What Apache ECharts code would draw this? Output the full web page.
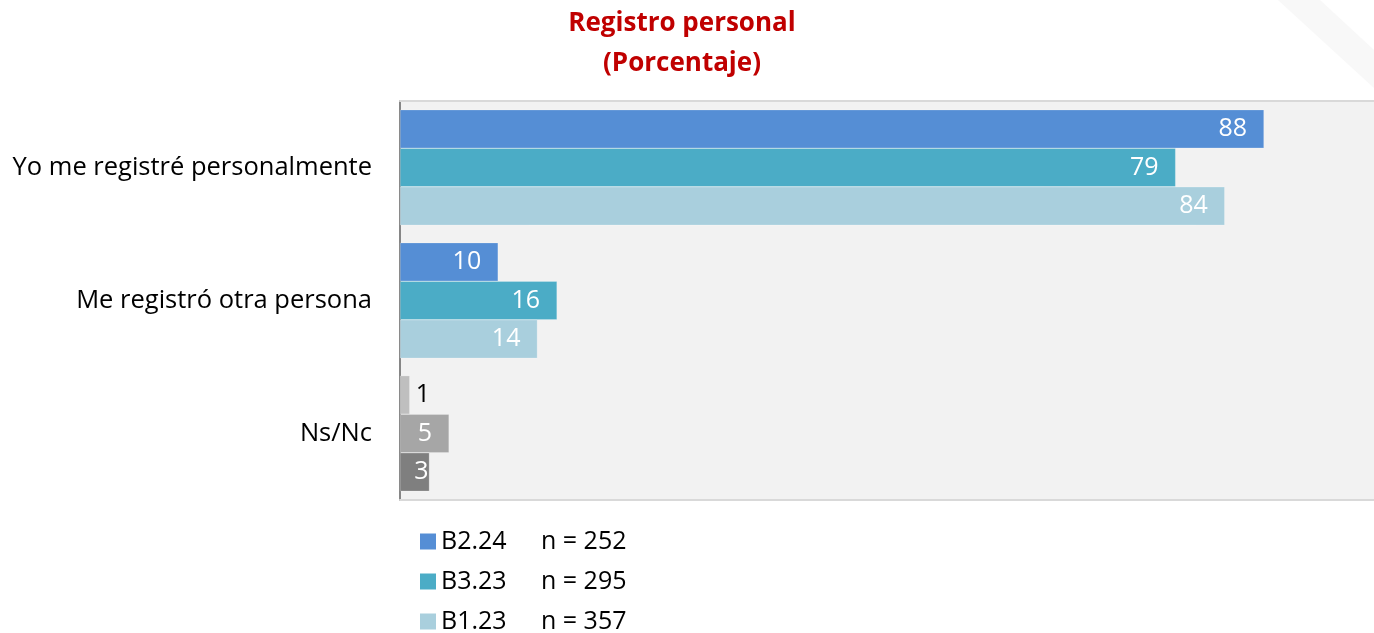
<!DOCTYPE html>
<html>
<head>
<meta charset="utf-8">
<script src="https://cdn.jsdelivr.net/npm/echarts@6/dist/echarts.min.js"></script>
<style>
  html, body { margin: 0; padding: 0; background: #fff; }
</style>
</head>
<body>
<div id="chart" style="width:1374px;height:633px;"></div>
<script>
// datos
const categorias = ['Yo me registré personalmente', 'Me registró otra persona', 'Ns/Nc']
const olas = ['B2.24', 'B3.23', 'B1.23']
const muestras = [252, 295, 357]
const valoresB224 = [88, 10, 1]
const valoresB323 = [79, 16, 5]
const valoresB123 = [84, 14, 3]

const coloresOla = ['#558ed5', '#4bacc6', '#a9cfdd']
// Ns/Nc va en grises
const grisesNsNc = ['#bfbfbf', '#a6a6a6', '#7f7f7f']
const fuente = '"Open Sans", "Noto Sans", sans-serif'

const todos = [valoresB224, valoresB323, valoresB123]

function armarSerie(i) {
  return {
    name: olas[i],
    type: 'bar',
    barGap: '0%',
    barCategoryGap: '13%',
    itemStyle: { color: coloresOla[i], borderColor: 'rgba(255,255,255,0.35)', borderWidth: 0.6 },
    label: {
      show: true,
      position: 'insideRight',
      distance: 17,
      color: '#fff',
      fontSize: 25,
      fontFamily: fuente
    },
    data: todos[i].map((v, k) => {
      if (k !== 2) return v
      let item = { value: v, itemStyle: { color: grisesNsNc[i] } }
      if (v < 2) item.label = { position: 'right', distance: 6, color: '#000' }
      else if (v < 4) item.label = { distance: 1 }
      return item
    })
  }
}

const chart = echarts.init(document.getElementById('chart'))
chart.setOption({
  animation: false,
  backgroundColor: '#fff',
  title: {
    text: 'Registro personal\n(Porcentaje)',
    left: 677,
    textAlign: 'center',
    top: -1,
    textStyle: {
      color: '#c00000',
      fontSize: 26,
      fontWeight: 'bold',
      lineHeight: 40,
      fontFamily: fuente
    }
  },
  graphic: [{
    type: 'polygon',
    silent: true,
    z: -1,
    shape: { points: [[1278, 0], [1320, 0], [1374, 50], [1374, 88]] },
    style: { fill: '#f8f8f8' }
  }],
  legend: {
    orient: 'vertical',
    left: 415,
    top: 524,
    height: 110,
    itemWidth: 16,
    itemHeight: 16,
    itemGap: 15,
    icon: 'rect',
    itemStyle: { borderWidth: 0 },
    formatter: name => '{a|' + name + '}{b|n = ' + muestras[olas.indexOf(name)] + '}',
    textStyle: {
      fontFamily: fuente,
      fontSize: 25,
      color: '#000',
      rich: {
        a: { fontSize: 25, width: 100, lineHeight: 24, fontFamily: fuente, color: '#000' },
        b: { fontSize: 25, lineHeight: 24, fontFamily: fuente, color: '#000' }
      }
    },
    data: olas
  },
  grid: {
    left: 400,
    right: 0,
    top: 101,
    bottom: 133,
    show: true,
    backgroundColor: '#f2f2f2',
    borderWidth: 0
  },
  xAxis: [{
    type: 'value',
    min: 0,
    max: 99.2,
    axisLabel: { show: false },
    axisLine: { show: true, lineStyle: { color: '#d9d9d9', width: 2 } },
    axisTick: { show: false },
    splitLine: { show: false }
  }, {
    type: 'value',
    position: 'top',
    min: 0,
    max: 99.2,
    axisLabel: { show: false },
    axisLine: { show: true, lineStyle: { color: '#d9d9d9', width: 2 } },
    axisTick: { show: false },
    splitLine: { show: false }
  }],
  yAxis: {
    type: 'category',
    inverse: true,
    data: categorias,
    axisLine: { show: true, lineStyle: { color: '#868686', width: 2 } },
    axisTick: { show: false },
    axisLabel: {
      color: '#000',
      fontSize: 25.5,
      margin: 28,
      fontFamily: fuente
    }
  },
  series: [armarSerie(0), armarSerie(1), armarSerie(2)]
})
</script>
</body>
</html>
